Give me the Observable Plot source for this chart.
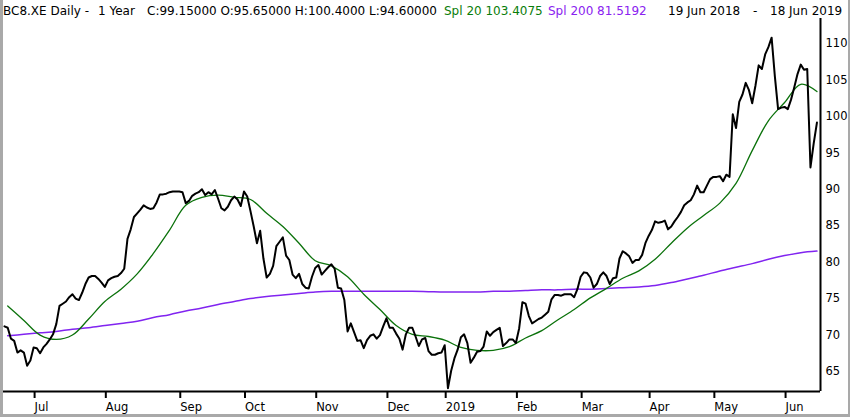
<!DOCTYPE html>
<html><head><meta charset="utf-8">
<script src="https://cdn.jsdelivr.net/npm/d3@7"></script>
<script src="https://cdn.jsdelivr.net/npm/@observablehq/plot@0.6"></script>
<style>
html,body{margin:0;padding:0;background:#fff;}
#wrap{position:relative;width:850px;height:417px;overflow:hidden;font-family:"DejaVu Sans",sans-serif;background:#fff;}
#header{position:relative;height:16px;font-size:12px;color:#000;}
#header span{position:absolute;top:5px;line-height:12px;white-space:pre;}
#border{position:absolute;left:0;top:0;width:850px;height:417px;box-sizing:border-box;border-left:3px solid #a9a9a9;border-right:2px solid #a9a9a9;border-bottom:3px solid #a9a9a9;pointer-events:none;}
#chart svg{display:block;}
</style></head>
<body>
<div id="wrap">
  <div id="header"></div>
  <div id="chart"></div>
  <div id="border"></div>
</div>
<script>
// ---- data ----
const closes = [
  71.2, 71.0, 69.5, 69.2, 67.6, 67.9, 67.6, 65.8, 66.5, 68.3,
  68.2, 67.5, 68.3, 68.8, 69.4, 70.1, 71.5, 74.0, 74.3, 74.6,
  75.2, 75.6, 75.0, 74.8, 75.8, 77.0, 77.9, 78.1, 78.1, 77.7,
  77.2, 76.6, 77.5, 77.8, 78.0, 78.1, 78.5, 79.1, 83.2, 84.5,
  86.2, 86.7, 87.2, 87.8, 87.5, 87.3, 87.4, 88.2, 89.3, 89.3,
  89.4, 89.6, 89.7, 89.7, 89.7, 89.6, 88.1, 88.4, 89.1, 89.4,
  89.6, 90.0, 89.2, 89.6, 89.3, 89.9, 88.7, 87.4, 87.1, 87.6,
  88.5, 89.0, 88.6, 87.7, 89.7, 89.0, 87.0, 84.9, 82.6, 84.3,
  80.5, 77.9, 78.4, 79.5, 82.2, 82.8, 83.4, 80.9, 80.3, 78.3,
  77.8, 78.4, 77.0, 76.5, 76.4, 78.0, 79.2, 79.6, 78.3, 78.8,
  79.3, 79.7, 79.1, 76.5, 76.4, 74.8, 70.5, 71.6, 70.4, 69.2,
  69.3, 68.2, 69.3, 69.9, 70.1, 69.5, 70.0, 71.2, 72.3, 71.0,
  71.0, 70.2, 69.5, 68.0, 70.1, 71.0, 71.0, 69.8, 68.5, 69.4,
  69.6, 67.8, 67.3, 67.3, 67.5, 67.6, 68.6, 62.7, 65.1, 66.8,
  68.0, 69.7, 70.1, 68.9, 66.2, 66.9, 67.7, 67.8, 68.4, 70.5,
  69.9, 70.4, 70.7, 71.0, 68.5, 68.9, 69.4, 69.4, 68.9, 70.9,
  74.5, 74.3, 72.6, 71.6, 71.9, 72.2, 72.4, 72.8, 73.2, 74.9,
  75.5, 75.5, 75.4, 75.6, 75.6, 75.6, 75.2, 76.3, 78.0, 78.6,
  78.5, 77.9, 76.5, 77.0, 78.1, 78.6, 78.1, 77.0, 77.8, 77.9,
  80.5, 81.5, 81.2, 80.8, 79.9, 80.3, 80.3, 81.0, 82.6, 83.6,
  84.4, 85.6, 85.4, 85.5, 85.7, 84.5, 84.9, 85.6, 86.2, 86.9,
  87.8, 88.2, 88.5, 89.3, 90.5, 89.6, 89.6, 90.5, 91.4, 91.7,
  91.7, 91.8, 91.1, 92.0, 91.7, 100.3, 98.4, 102.0, 103.0, 104.6,
  103.6, 101.8, 104.2, 107.0, 106.5, 108.5, 109.5, 110.8, 105.5, 101.0,
  101.2, 101.3, 101.0, 102.3, 104.0, 105.8, 107.1, 106.4, 106.5, 93.0,
  96.3, 99.15
];
// moving averages read every 5th trading day, starting at trading day 1
const maStart = 1, maStep = 5;
const sma20 = [
  74.0, 72.0, 70.0, 69.4, 70.0, 72.2, 74.6, 76.3, 78.4, 81.2,
  84.4, 87.8, 88.9, 89.2, 88.9, 88.6, 86.7, 84.9, 82.6, 80.2,
  79.5, 78.0, 75.6, 73.5, 71.3, 70.1, 69.8, 69.3, 68.3, 67.9,
  67.9, 68.4, 69.6, 70.6, 72.1, 73.5, 75.1, 76.4, 77.8, 78.8,
  80.4, 82.6, 84.7, 86.4, 88.1, 90.8, 95.3, 99.4, 101.9, 104.4,
  103.4075
];
const sma200 = [
  69.9, 70.1, 70.3, 70.5, 70.8, 71.0, 71.3, 71.6, 71.9, 72.4,
  72.8, 73.3, 73.7, 74.2, 74.6, 75.0, 75.3, 75.5, 75.7, 75.9,
  76.0, 76.0, 76.0, 76.0, 76.0, 76.0, 75.95, 75.9, 75.9, 75.9,
  76.0, 76.0, 76.1, 76.2, 76.2, 76.3, 76.3, 76.4, 76.5, 76.6,
  76.8, 77.2, 77.7, 78.2, 78.8, 79.3, 79.8, 80.4, 80.9, 81.3,
  81.5192
];
const holidays = ["2018-10-03","2018-12-24","2018-12-25","2018-12-26","2019-01-01",
                  "2019-04-19","2019-04-22","2019-05-01","2019-06-10"];
const monthLabels = ["Jul","Aug","Sep","Oct","Nov","Dec","2019","Feb","Mar","Apr","May","Jun"];
const yTicks = [65, 70, 75, 80, 85, 90, 95, 100, 105, 110];
const headerParts = [
  {text: "BC8.XE Daily -", left: 3, color: "#000"},
  {text: "1 Year", left: 98, color: "#000"},
  {text: "C:99.15000 O:95.65000 H:100.4000 L:94.60000", left: 147, color: "#000"},
  {text: "Spl 20 103.4075", left: 444, color: "#0a7d0a"},
  {text: "Spl 200 81.5192", left: 548, color: "#8a22f0"},
  {text: "19 Jun 2018", left: 668, color: "#000"},
  {text: "-", left: 753, color: "#000"},
  {text: "18 Jun 2019", left: 770, color: "#000"}
];

// ---- header ----
const header = document.getElementById("header");
for (const p of headerParts) {
  const s = document.createElement("span");
  s.textContent = p.text; s.style.left = p.left + "px"; s.style.color = p.color;
  header.appendChild(s);
}

// ---- trading days ----
const fmt = d3.utcFormat("%Y-%m-%d");
const days = d3.utcDays(new Date(Date.UTC(2018,5,19)), new Date(Date.UTC(2019,5,19)))
  .filter(d => d.getUTCDay() % 6 !== 0 && !holidays.includes(fmt(d)));
const tickIdx = [];
for (let i = 1; i < days.length; i++) if (days[i].getUTCMonth() !== days[i-1].getUTCMonth()) tickIdx.push(i);
const tickLabel = new Map(tickIdx.map((t, k) => [t, monthLabels[k]]));

const price = closes.map((v, i) => ({i, v, date: days[i]}));
const ma20 = sma20.map((v, k) => ({i: maStart + k * maStep, v}));
const ma200 = sma200.map((v, k) => ({i: maStart + k * maStep, v}));

const xDomain = [-0.3, closes.length + 0.1];
const yDomain = [62.256, 113.43];

const chart = Plot.plot({
  width: 850, height: 401,
  marginTop: 2, marginBottom: 26, marginLeft: 3, marginRight: 30,
  x: {domain: xDomain},
  y: {domain: yDomain},
  style: {fontFamily: "DejaVu Sans", fontSize: "11.5px", color: "#000", background: "transparent", overflow: "visible"},
  marks: [
    Plot.line(ma200, {x: "i", y: "v", stroke: "#8124f0", strokeWidth: 1.5, curve: "catmull-rom"}),
    Plot.line(ma20, {x: "i", y: "v", stroke: "#0b720b", strokeWidth: 1.3, curve: "catmull-rom"}),
    Plot.line(price, {x: "i", y: "v", stroke: "#000", strokeWidth: 2}),
    Plot.ruleY([yDomain[0]], {stroke: "#000", strokeWidth: 2}),
    Plot.ruleX([xDomain[1]], {stroke: "#000", strokeWidth: 2}),
    Plot.axisX({ticks: tickIdx, tickFormat: d => tickLabel.get(d), tickSize: 7, tickPadding: 4,
                textAnchor: "start", dx: 1, strokeWidth: 2, label: null}),
    Plot.axisY({anchor: "right", ticks: yTicks, tickSize: 0, tickPadding: 5, tickFormat: d => String(d), label: null})
  ]
});
document.getElementById("chart").appendChild(chart);
</script>
</body></html>
